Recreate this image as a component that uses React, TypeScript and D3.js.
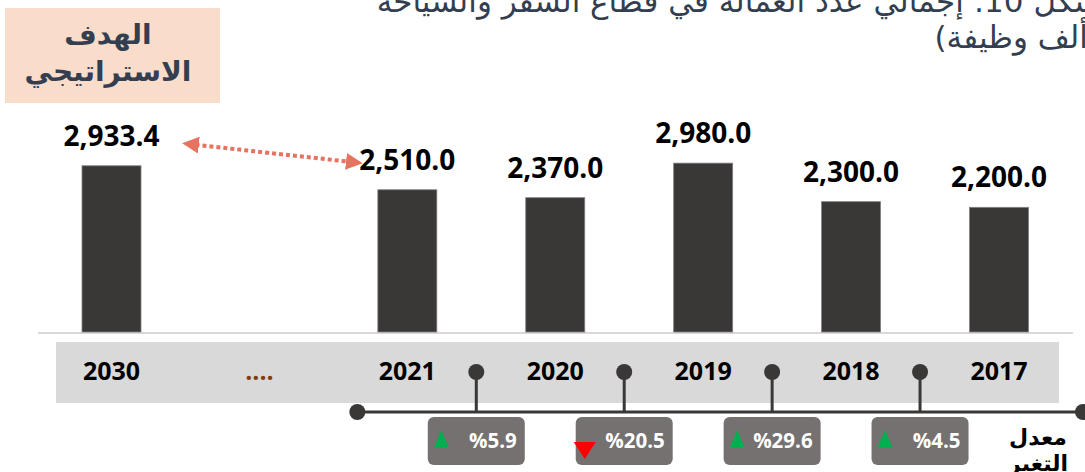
import React from 'react';
import * as d3 from 'd3';

const categories = ['2030', '....', '2021', '2020', '2019', '2018', '2017'];
const values: (number | null)[] = [2933.4, null, 2510.0, 2370.0, 2980.0, 2300.0, 2200.0];
// change of each year against the year to its right (previous year)
const changeYears = ['2021', '2020', '2019', '2018'];
const changeRates = [5.9, -20.5, 29.6, 4.5];
const titleLines = ['شكل 10: إجمالي عدد العمالة في قطاع السفر والسياحة', '(ألف وظيفة)'];
const targetLabel = ['الهدف', 'الاستراتيجي'];
const changeLabel = ['معدل', 'التغير'];

const W = 1085;
const H = 472;
const NUM_FONT = '"Open Sans", "Liberation Sans", sans-serif';
const AR_FONT = '"DejaVu Sans", "Noto Sans", sans-serif';

const App: React.FC = () => {
  const ref = React.useRef<SVGSVGElement>(null);

  React.useEffect(() => {
    const svg = d3.select(ref.current);
    svg.selectAll('*').remove();

    const x = d3.scalePoint<string>().domain(categories).range([111.5, 999]);
    const y = d3.scaleLinear().domain([0, 3000]).range([332, 162]);
    const barW = 59;

    const defs = svg.append('defs');
    defs
      .append('marker')
      .attr('id', 'arrowHead')
      .attr('viewBox', '0 0 10 10')
      .attr('refX', 2)
      .attr('refY', 5)
      .attr('markerWidth', 4.2)
      .attr('markerHeight', 4.2)
      .attr('orient', 'auto-start-reverse')
      .append('path')
      .attr('d', 'M0,0 L10,5 L0,10 Z')
      .attr('fill', '#e5735f');

    // title (cut at the top of the frame, as in the source)
    svg
      .append('g')
      .selectAll('text')
      .data(titleLines)
      .enter()
      .append('text')
      .attr('x', 1100)
      .attr('y', (_d, i) => 12 + i * 36)
      .attr('direction', 'rtl')
      .attr('text-anchor', 'start')
      .attr('font-family', AR_FONT)
      .attr('font-size', 31)
      .attr('fill', '#333f50')
      .text((d) => d);

    // strategic target box
    svg
      .append('rect')
      .attr('x', 5)
      .attr('y', 8)
      .attr('width', 215)
      .attr('height', 95)
      .attr('fill', '#f9dcca');
    svg
      .append('g')
      .selectAll('text')
      .data(targetLabel)
      .enter()
      .append('text')
      .attr('x', 108)
      .attr('y', (_d, i) => 44 + i * 37)
      .attr('text-anchor', 'middle')
      .attr('direction', 'rtl')
      .attr('font-family', AR_FONT)
      .attr('font-weight', 'bold')
      .attr('font-size', 28)
      .attr('fill', '#333f50')
      .text((d) => d);

    // base line
    svg
      .append('line')
      .attr('x1', 38)
      .attr('x2', 1073)
      .attr('y1', y(0) + 1)
      .attr('y2', y(0) + 1)
      .attr('stroke', '#d9d9d9')
      .attr('stroke-width', 2);

    const data = categories
      .map((c, i) => ({ c, v: values[i] }))
      .filter((d) => d.v !== null) as { c: string; v: number }[];

    svg
      .append('g')
      .selectAll('rect')
      .data(data)
      .enter()
      .append('rect')
      .attr('x', (d) => (x(d.c) as number) - barW / 2)
      .attr('y', (d) => y(d.v))
      .attr('width', barW)
      .attr('height', (d) => y(0) - y(d.v))
      .attr('fill', '#3a3836')
      .attr('stroke', '#808080')
      .attr('stroke-width', 0.8);

    svg
      .append('g')
      .selectAll('text')
      .data(data)
      .enter()
      .append('text')
      .attr('x', (d) => x(d.c) as number)
      .attr('y', (d) => y(d.v) - 20)
      .attr('text-anchor', 'middle')
      .attr('font-family', NUM_FONT)
      .attr('font-weight', 'bold')
      .attr('font-size', 28)
      .attr('fill', '#000')
      .text((d) => d3.format(',.1f')(d.v));

    // dotted double arrow from target to latest year
    const a0 = { x: (x('2030') as number) + 76, y: y(2933.4) - 22 };
    const a1 = { x: (x('2021') as number) - 50, y: y(2510) - 27 };
    svg
      .append('line')
      .attr('x1', a0.x + 8)
      .attr('y1', a0.y + 1)
      .attr('x2', a1.x - 8)
      .attr('y2', a1.y - 1)
      .attr('stroke', '#e5735f')
      .attr('stroke-width', 4)
      .attr('stroke-dasharray', '4,3')
      .attr('marker-start', 'url(#arrowHead)')
      .attr('marker-end', 'url(#arrowHead)');

    // category band
    svg
      .append('rect')
      .attr('x', 56)
      .attr('y', 342)
      .attr('width', 1003)
      .attr('height', 61)
      .attr('fill', '#d9d9d9');

    svg
      .append('g')
      .selectAll('text')
      .data(categories)
      .enter()
      .append('text')
      .attr('x', (d) => x(d) as number)
      .attr('y', 380)
      .attr('text-anchor', 'middle')
      .attr('font-family', NUM_FONT)
      .attr('font-weight', 'bold')
      .attr('font-size', 25)
      .attr('fill', (d) => (d === '....' ? '#843c0c' : '#000'))
      .text((d) => d);

    // change-rate timeline
    const lineY = 412;
    const dotY = 372;
    const dark = '#3a3836';
    const tl = svg.append('g');
    const tStart = (x('2021') as number) - 50;
    const tEnd = (x('2017') as number) + 84;
    tl.append('line')
      .attr('x1', tStart)
      .attr('x2', tEnd)
      .attr('y1', lineY)
      .attr('y2', lineY)
      .attr('stroke', dark)
      .attr('stroke-width', 3);
    [tStart, tEnd].forEach((cx) =>
      tl.append('circle').attr('cx', cx).attr('cy', lineY).attr('r', 8).attr('fill', dark)
    );

    const changes = changeYears.map((yr, i) => {
      const idx = categories.indexOf(yr);
      const mid = ((x(yr) as number) + (x(categories[idx + 1]) as number)) / 2 - 5;
      return { yr, rate: changeRates[i], cx: mid };
    });

    const g = tl
      .selectAll('g.chg')
      .data(changes)
      .enter()
      .append('g')
      .attr('class', 'chg');

    g.append('line')
      .attr('x1', (d) => d.cx)
      .attr('x2', (d) => d.cx)
      .attr('y1', dotY)
      .attr('y2', lineY)
      .attr('stroke', dark)
      .attr('stroke-width', 3);
    g.append('circle')
      .attr('cx', (d) => d.cx)
      .attr('cy', dotY)
      .attr('r', 8)
      .attr('fill', dark);

    const boxW = 97;
    const boxTop = 417;
    g.append('rect')
      .attr('x', (d) => d.cx - boxW / 2)
      .attr('y', boxTop)
      .attr('width', boxW)
      .attr('height', 48)
      .attr('rx', 6)
      .attr('fill', '#767171');

    g.append('path')
      .attr('d', (d) => {
        const l = d.cx - boxW / 2;
        if (d.rate >= 0) {
          return `M${l + 6},${boxTop + 31} L${l + 13.5},${boxTop + 13} L${l + 21},${boxTop + 31} Z`;
        }
        return `M${l - 2},${boxTop + 25} L${l + 20},${boxTop + 25} L${l + 9},${boxTop + 42} Z`;
      })
      .attr('fill', (d) => (d.rate >= 0 ? '#00b050' : '#ff0000'));

    g.append('text')
      .attr('x', (d) => d.cx + boxW / 2 - 8)
      .attr('y', boxTop + 31)
      .attr('text-anchor', 'end')
      .attr('font-family', NUM_FONT)
      .attr('font-weight', 'bold')
      .attr('font-size', 20.5)
      .attr('fill', '#fff')
      .text((d) => `%${Math.abs(d.rate).toFixed(1)}`);

    svg
      .append('g')
      .selectAll('text')
      .data(changeLabel)
      .enter()
      .append('text')
      .attr('x', 1038)
      .attr('y', (_d, i) => 445 + i * 26)
      .attr('text-anchor', 'middle')
      .attr('direction', 'rtl')
      .attr('font-family', AR_FONT)
      .attr('font-weight', 'bold')
      .attr('font-size', 22)
      .attr('fill', '#000')
      .text((d) => d);
  }, []);

  return (
    <svg
      ref={ref}
      width={W}
      height={H}
      style={{ position: 'absolute', left: 0, top: 0, background: '#fff' }}
    />
  );
};

export default App;
